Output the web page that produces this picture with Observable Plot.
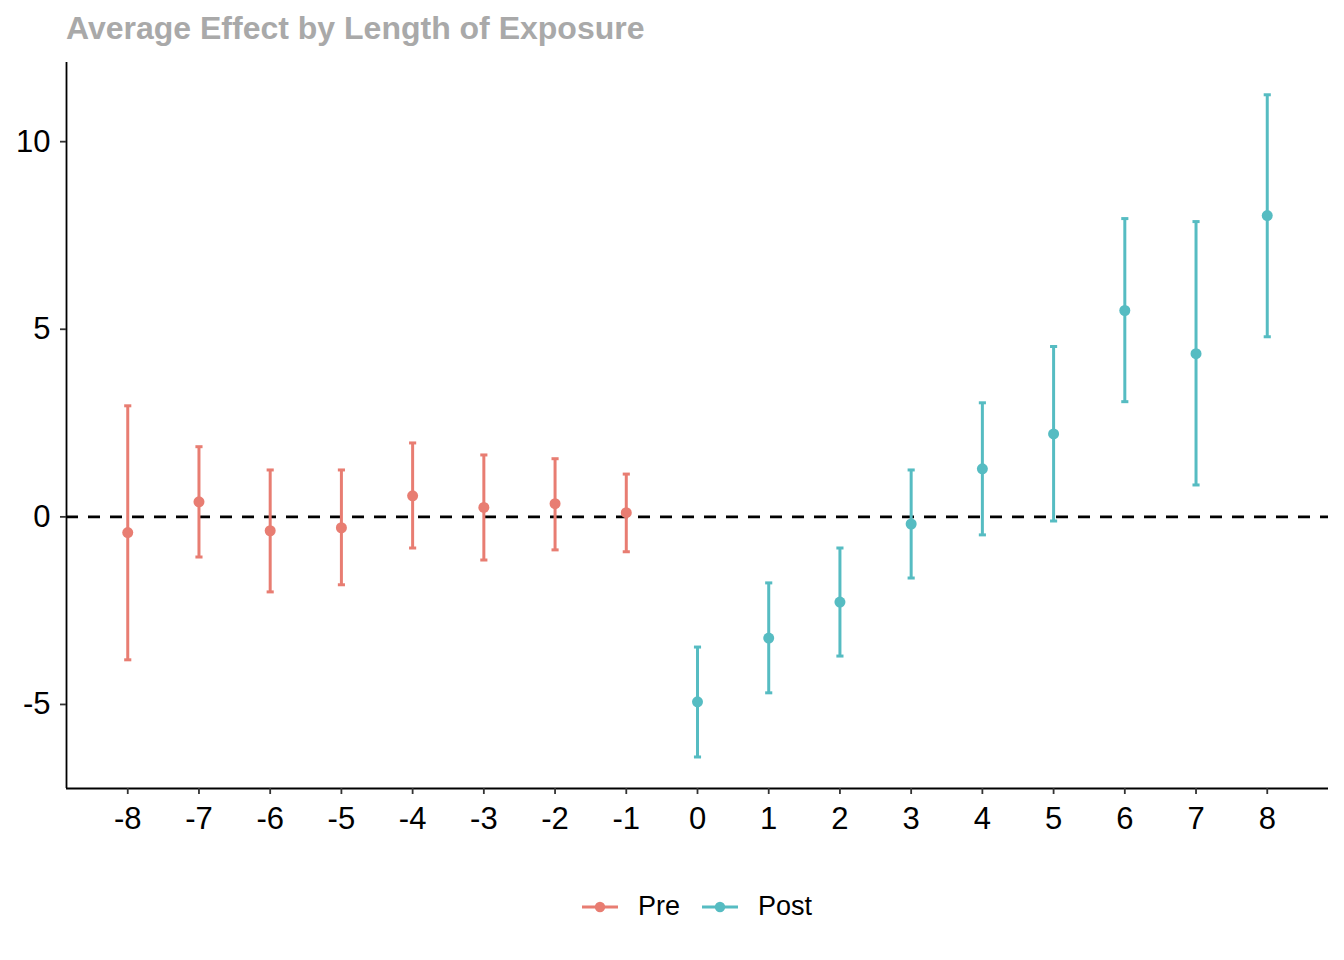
<!DOCTYPE html>
<html>
<head>
<meta charset="utf-8">
<script src="https://cdn.jsdelivr.net/npm/d3@7"></script>
<script src="https://cdn.jsdelivr.net/npm/@observablehq/plot@0.6"></script>
<style>
  html, body { margin: 0; padding: 0; background: #fff; }
  body { width: 1344px; height: 960px; position: relative; font-family: "Liberation Sans", Arial, sans-serif; overflow: hidden; }
  #title { position: absolute; left: 66px; top: 12px; font-size: 32px; line-height: 32px; font-weight: bold; color: #A9A9A9; white-space: nowrap; }
  #chart { position: absolute; left: 0; top: 0; }
  #legend { position: absolute; left: 66px; width: 1262px; top: 891px; display: flex; justify-content: center; align-items: center; font-size: 27px; color: #000; }
  .item { display: flex; align-items: center; margin: 0 11px; }
  .item svg { margin-right: 20px; }
</style>
</head>
<body>
<div id="title">Average Effect by Length of Exposure</div>
<div id="chart"></div>
<div id="legend"></div>
<script>
// ---- data ----
const periods   = [-8, -7, -6, -5, -4, -3, -2, -1, 0, 1, 2, 3, 4, 5, 6, 7, 8];
const estimates = [-0.42, 0.40, -0.37, -0.29, 0.56, 0.25, 0.35, 0.11, -4.93, -3.23, -2.27, -0.19, 1.28, 2.21, 5.50, 4.35, 8.03];
const lower     = [-3.81, -1.07, -2.00, -1.81, -0.83, -1.15, -0.88, -0.93, -6.40, -4.69, -3.71, -1.63, -0.48, -0.11, 3.07, 0.85, 4.80];
const upper     = [2.96, 1.87, 1.25, 1.25, 1.97, 1.65, 1.55, 1.14, -3.47, -1.76, -0.83, 1.25, 3.04, 4.54, 7.95, 7.87, 11.25];
const groups    = ["Pre", "Post"];
const colors    = ["#E87D72", "#56BCC2"];
const xTicks    = periods;
const yTicks    = [-5, 0, 5, 10];
const xDomain   = [-8.86, 8.86];
const yDomain   = [-7.24, 12.11];
const capHalf   = 0.05;

const data = periods.map((t, i) => ({
  t, est: estimates[i], lo: lower[i], hi: upper[i], g: t < 0 ? groups[0] : groups[1]
}));

const chart = Plot.plot({
  width: 1344,
  height: 960,
  marginTop: 62,
  marginLeft: 66,
  marginRight: 16,
  marginBottom: 172,
  style: { fontFamily: "'Liberation Sans', Arial, sans-serif", fontSize: "31px", color: "#000", background: "transparent" },
  x: { domain: xDomain, ticks: xTicks, tickFormat: d => String(d), label: null },
  y: { domain: yDomain, ticks: yTicks, tickFormat: d => String(d), label: null },
  color: { domain: groups, range: colors },
  marks: [
    Plot.ruleY([0], { stroke: "#000", strokeWidth: 2.6, strokeDasharray: "12,10" }),
    Plot.ruleX(data, { x: "t", y1: "lo", y2: "hi", stroke: "g", strokeWidth: 3 }),
    Plot.link(data, { x1: d => d.t - capHalf, x2: d => d.t + capHalf, y1: "hi", y2: "hi", stroke: "g", strokeWidth: 3 }),
    Plot.link(data, { x1: d => d.t - capHalf, x2: d => d.t + capHalf, y1: "lo", y2: "lo", stroke: "g", strokeWidth: 3 }),
    Plot.dot(data, { x: "t", y: "est", fill: "g", r: 5.5 }),
    Plot.ruleX([xDomain[0]], { stroke: "#000", strokeWidth: 1.8 }),
    Plot.ruleY([yDomain[0]], { stroke: "#000", strokeWidth: 1.8 }),
    Plot.axisY({ ticks: yTicks, tickFormat: d => String(d), tickSize: 6, tickPadding: 10, stroke: "#333", strokeWidth: 1.8, fill: "#000", fontSize: 31, label: null }),
    Plot.axisX({ ticks: xTicks, tickFormat: d => String(d), tickSize: 6, tickPadding: 12, stroke: "#333", strokeWidth: 1.8, fill: "#000", fontSize: 31, label: null })
  ]
});
document.getElementById("chart").appendChild(chart);

// ---- legend ----
const legend = document.getElementById("legend");
groups.forEach((g, i) => {
  const item = document.createElement("div");
  item.className = "item";
  item.innerHTML = `<svg width="36" height="14" viewBox="0 0 36 14"><line x1="0" x2="36" y1="7" y2="7" stroke="${colors[i]}" stroke-width="3"/><circle cx="18" cy="7" r="5.2" fill="${colors[i]}"/></svg><span>${g}</span>`;
  legend.appendChild(item);
});
</script>
</body>
</html>
